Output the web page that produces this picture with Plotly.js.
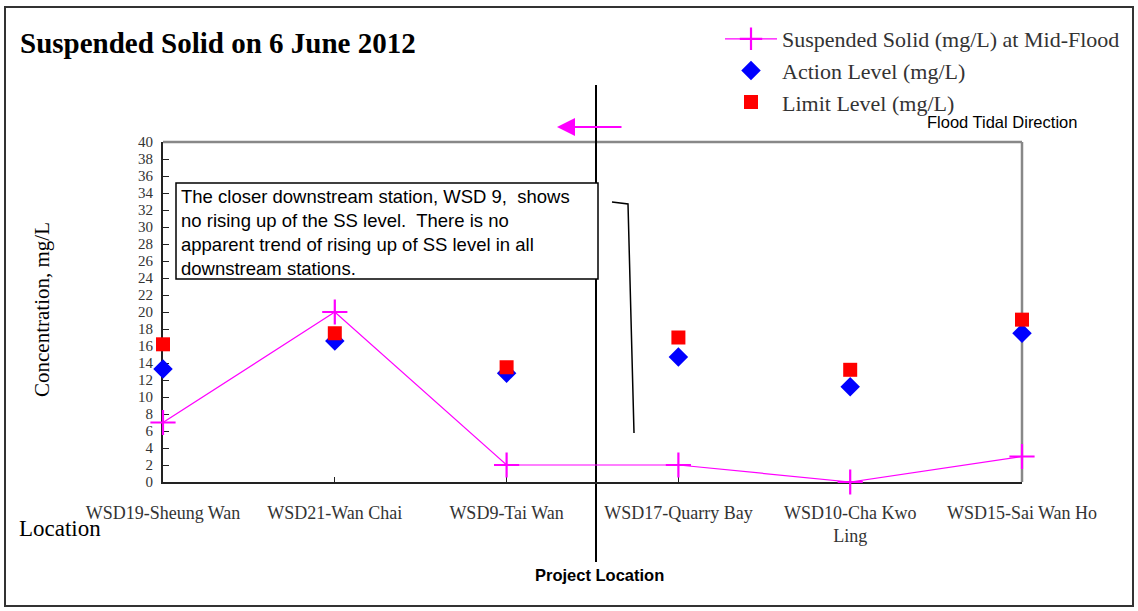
<!DOCTYPE html>
<html><head><meta charset="utf-8">
<script src="https://cdn.plot.ly/plotly-3.0.1.min.js"></script>
<style>html,body{margin:0;padding:0;background:#fff}#chart{width:1138px;height:611px}</style>
</head><body><div id="chart"></div>
<script>
const stations = ["WSD19-Sheung Wan","WSD21-Wan Chai","WSD9-Tai Wan","WSD17-Quarry Bay","WSD10-Cha Kwo<br>Ling","WSD15-Sai Wan Ho"];
const ssMidFlood = [7.0, 20.0, 2.0, 2.0, 0.0, 3.0];
const actionLevel = [13.3, 16.6, 12.8, 14.7, 11.2, 17.5];
const limitLevel = [16.2, 17.5, 13.5, 17.0, 13.2, 19.1];
const yTicks = [0,2,4,6,8,10,12,14,16,18,20,22,24,26,28,30,32,34,36,38,40];

const W=1138,H=611,L=163,R=1022,T=142,B=482;
const px=x=>(x-L)/(R-L), py=y=>(B-y)/(B-T);
const xi = stations.map((_,i)=>i);
const serif = "Liberation Serif, Times New Roman, serif";
const sans = "Liberation Sans, Arial, sans-serif";

const traces = [
 {x:xi,y:ssMidFlood,type:'scatter',mode:'lines+markers',name:'Suspended Solid (mg/L) at Mid-Flood',
  line:{color:'#ff00ff',width:1.2},marker:{symbol:'cross-thin',size:18,line:{color:'#ff00ff',width:2.2}},cliponaxis:false},
 {x:xi,y:actionLevel,type:'scatter',mode:'markers',name:'Action Level (mg/L)',
  marker:{symbol:'diamond',size:15,color:'#0000ff'},cliponaxis:false},
 {x:xi,y:limitLevel,type:'scatter',mode:'markers',name:'Limit Level (mg/L)',
  marker:{symbol:'square',size:14,color:'#ff0000'},cliponaxis:false}
];

const layout = {
 width:W,height:H,margin:{l:L,r:W-R,t:T,b:H-B},
 paper_bgcolor:'#fff',plot_bgcolor:'rgba(0,0,0,0)',showlegend:true,
 xaxis:{range:[0,5],tickmode:'array',tickvals:xi,ticktext:stations,showgrid:false,zeroline:false,
   showline:true,linecolor:'#222',linewidth:2,ticks:'inside',ticklen:5,tickcolor:'#222',layer:'below traces',
   tickfont:{family:serif,size:18,color:'#333'},ticklabelstandoff:13},
 yaxis:{range:[0,40],tickmode:'array',tickvals:yTicks,showgrid:false,zeroline:false,
   showline:true,linecolor:'#222',linewidth:2,ticks:'inside',ticklen:6,tickcolor:'#222',layer:'below traces',
   tickfont:{family:serif,size:15,color:'#333'},ticklabelstandoff:5},
 legend:{x:px(720),y:py(18),xanchor:'left',yanchor:'top',font:{family:serif,size:22,color:'#333'},
   bgcolor:'rgba(0,0,0,0)',itemwidth:52,tracegroupgap:0},
 shapes:[
  {type:'rect',layer:'below',xref:'paper',yref:'paper',x0:px(5),x1:px(1133),y0:py(7),y1:py(606),line:{color:'#333',width:2}},
  {type:'line',layer:'below',xref:'paper',yref:'paper',x0:px(163),x1:px(1022),y0:1,y1:1,line:{color:'#888',width:2.5}},
  {type:'line',layer:'below',xref:'paper',yref:'paper',x0:1,x1:1,y0:0,y1:1,line:{color:'#888',width:2.5}},
  {type:'line',layer:'below',xref:'paper',yref:'paper',x0:px(596),x1:px(596),y0:py(85),y1:py(562),line:{color:'#000',width:2}},
  {type:'rect',layer:'below',xref:'paper',yref:'paper',x0:px(176),x1:px(598),y0:py(183),y1:py(279),line:{color:'#000',width:1.5},fillcolor:'#fff'},
  {type:'path',layer:'below',xref:'paper',yref:'paper',path:`M ${px(612)} ${py(202)} L ${px(628)} ${py(204)} L ${px(634)} ${py(433)}`,line:{color:'#000',width:1.5}}
 ],
 annotations:[
  {text:'<b>Suspended Solid on 6 June 2012</b>',xref:'paper',yref:'paper',x:px(18),y:py(43),xanchor:'left',yanchor:'middle',showarrow:false,font:{family:serif,size:29,color:'#000'}},
  {text:'Concentration, mg/L',xref:'paper',yref:'paper',x:px(42),y:py(310),xanchor:'center',yanchor:'middle',textangle:-90,showarrow:false,font:{family:serif,size:21,color:'#000'}},
  {text:'Flood Tidal Direction',xref:'paper',yref:'paper',x:px(1002),y:py(122),xanchor:'center',yanchor:'middle',showarrow:false,font:{family:sans,size:16.5,color:'#000'}},
  {text:'',xref:'paper',yref:'paper',axref:'paper',ayref:'paper',x:px(557),y:py(127),ax:px(623),ay:py(127),showarrow:true,arrowhead:2,arrowsize:1.8,arrowwidth:2,arrowcolor:'#ff00ff'},
  {text:'The closer downstream station, WSD 9,  shows<br>no rising up of the SS level.  There is no<br>apparent trend of rising up of SS level in all<br>downstream stations.',
   xref:'paper',yref:'paper',x:px(179),y:py(232),xanchor:'left',yanchor:'middle',align:'left',showarrow:false,font:{family:sans,size:18.5,color:'#000'}},
  {text:'Location',xref:'paper',yref:'paper',x:px(17),y:py(528),xanchor:'left',yanchor:'middle',showarrow:false,font:{family:serif,size:23,color:'#000'}},
  {text:'<b>Project Location</b>',xref:'paper',yref:'paper',x:px(599),y:py(575),xanchor:'center',yanchor:'middle',showarrow:false,font:{family:sans,size:16.5,color:'#000'}}
 ]
};
Plotly.newPlot('chart',traces,layout,{displayModeBar:false,staticPlot:true});
</script></body></html>
